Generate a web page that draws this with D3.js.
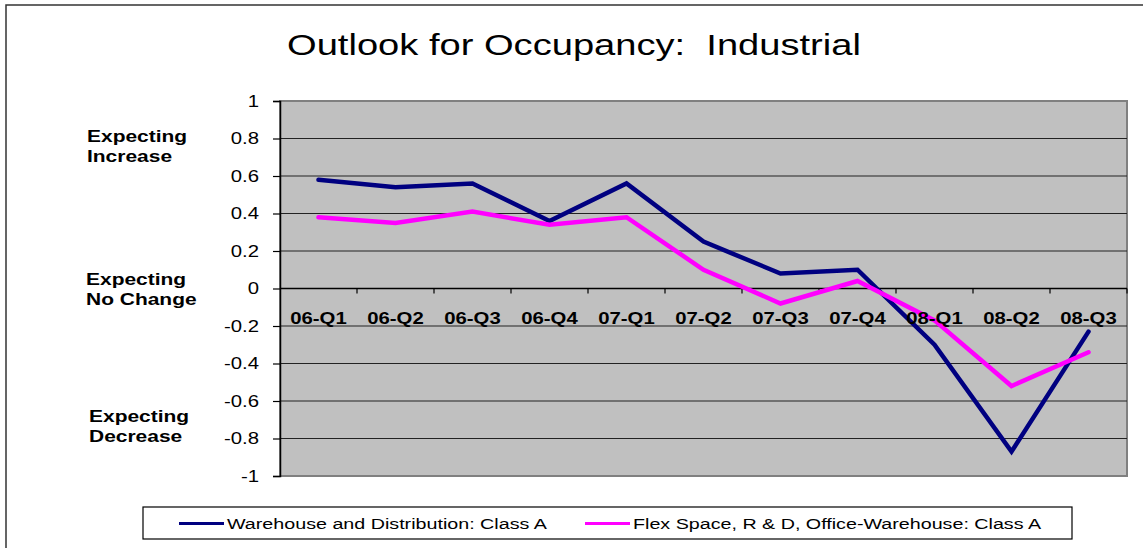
<!DOCTYPE html>
<html>
<head>
<meta charset="utf-8">
<script src="https://cdn.jsdelivr.net/npm/d3@7"></script>
<style>
  body { margin: 0; background: #fff; }
  text { font-family: Arial, "Liberation Sans", sans-serif; fill: #000; }
</style>
</head>
<body>
<div id="container"></div>
<script>
/* CONSTANTS AND GLOBALS */
const width = 1143,
  height = 548,
  margin = { top: 101, bottom: 72, left: 280, right: 16 };

// text in the reference is stretched sideways a bit
const stretch = 1.27;

/* DATA */
const quarters = ["06-Q1", "06-Q2", "06-Q3", "06-Q4", "07-Q1", "07-Q2", "07-Q3", "07-Q4", "08-Q1", "08-Q2", "08-Q3"];
const warehouse = [0.58, 0.54, 0.56, 0.36, 0.56, 0.25, 0.08, 0.10, -0.30, -0.87, -0.23];
const flexSpace = [0.38, 0.35, 0.41, 0.34, 0.38, 0.10, -0.08, 0.04, -0.17, -0.52, -0.34];
const seriesNames = ["Warehouse and Distribution: Class A", "Flex Space, R & D, Office-Warehouse: Class A"];
const yTicks = [1, 0.8, 0.6, 0.4, 0.2, 0, -0.2, -0.4, -0.6, -0.8, -1];

const series = [
  { name: seriesNames[0], values: warehouse, color: "#000080" },
  { name: seriesNames[1], values: flexSpace, color: "#FF00FF" }
];

function widen(sel) {
  sel.each(function () {
    const w = this.getComputedTextLength();
    d3.select(this).attr("textLength", w * stretch).attr("lengthAdjust", "spacingAndGlyphs");
  });
}

/* SCALES */
const xScale = d3.scaleBand()
  .domain(quarters)
  .range([margin.left, width - margin.right]);

const yScale = d3.scaleLinear()
  .domain([-1, 1])
  .range([height - margin.bottom, margin.top]);

/* HTML ELEMENTS */
const svg = d3.select("#container")
  .append("svg")
  .attr("width", width)
  .attr("height", height);

// chart area border
svg.append("rect")
  .attr("x", 6).attr("y", 5)
  .attr("width", 1145).attr("height", 560)
  .attr("fill", "#fff")
  .attr("stroke", "#333")
  .attr("stroke-width", 1.5);

// title
svg.append("text")
  .attr("x", 574).attr("y", 55)
  .attr("text-anchor", "middle")
  .style("font-size", "30px")
  .style("white-space", "pre")
  .text("Outlook for Occupancy:  Industrial")
  .call(widen);

// plot background
svg.append("rect")
  .attr("x", margin.left)
  .attr("y", margin.top)
  .attr("width", width - margin.right - margin.left)
  .attr("height", yScale(-1) - yScale(1))
  .attr("fill", "#C0C0C0")
  .attr("stroke", "#808080")
  .attr("stroke-width", 2);

// gridlines
svg.append("g")
  .selectAll("line")
  .data(yTicks.filter(d => d !== 1 && d !== -1 && d !== 0))
  .join("line")
  .attr("x1", margin.left).attr("x2", width - margin.right)
  .attr("y1", d => yScale(d)).attr("y2", d => yScale(d))
  .attr("stroke", "#222")
  .attr("stroke-width", 1.2);

// y axis (plain hyphen for negatives, like the original)
const yAxis = d3.axisLeft(yScale)
  .tickValues(yTicks)
  .tickSize(7)
  .tickPadding(14)
  .tickFormat(d => String(+d.toFixed(1)));
const yG = svg.append("g")
  .attr("transform", `translate(${margin.left}, 0)`)
  .call(yAxis);
yG.select(".domain").attr("stroke", "#000").attr("stroke-width", 1.5);
yG.selectAll(".tick line").attr("stroke", "#000").attr("stroke-width", 1.2);
yG.selectAll(".tick text")
  .style("font-size", "16px")
  .style("font-family", "Arial, 'Liberation Sans', sans-serif")
  .attr("fill", "#000")
  .call(widen);

// x axis at zero
const boundaries = quarters.map(q => xScale(q)).concat([width - margin.right]);
const xG = svg.append("g");
xG.append("line")
  .attr("x1", margin.left).attr("x2", width - margin.right)
  .attr("y1", yScale(0)).attr("y2", yScale(0))
  .attr("stroke", "#000")
  .attr("stroke-width", 1.5);
xG.selectAll(".xtick")
  .data(boundaries.slice(1))
  .join("line")
  .attr("class", "xtick")
  .attr("x1", d => d).attr("x2", d => d)
  .attr("y1", yScale(0)).attr("y2", yScale(0) + 5)
  .attr("stroke", "#000")
  .attr("stroke-width", 1.2);

// lines
const line = d3.line()
  .x((d, i) => xScale(quarters[i]) + xScale.bandwidth() / 2)
  .y(d => yScale(d));

svg.selectAll(".series")
  .data(series)
  .join("path")
  .attr("class", "series")
  .attr("d", d => line(d.values))
  .attr("fill", "none")
  .attr("stroke", d => d.color)
  .attr("stroke-width", 4.5)
  .attr("stroke-linejoin", "miter")
  .attr("stroke-linecap", "round");

// category labels sit on top of the lines
svg.selectAll(".xlabel")
  .data(quarters)
  .join("text")
  .attr("class", "xlabel")
  .attr("x", d => xScale(d) + xScale.bandwidth() / 2)
  .attr("y", yScale(0) + 35)
  .attr("text-anchor", "middle")
  .style("font-size", "16px")
  .style("font-weight", "bold")
  .text(d => d)
  .call(widen);

// side labels
const sideLabels = [
  { x: 87, y: 142, lines: ["Expecting", "Increase"] },
  { x: 86, y: 285, lines: ["Expecting", "No Change"] },
  { x: 89, y: 422, lines: ["Expecting", "Decrease"] }
];
sideLabels.forEach(s => {
  s.lines.forEach((t, i) => {
    svg.append("text")
      .attr("x", s.x)
      .attr("y", s.y + i * 20)
      .style("font-size", "16.5px")
      .style("font-weight", "bold")
      .text(t)
      .call(widen);
  });
});

// legend
const legend = svg.append("g");
legend.append("rect")
  .attr("x", 143).attr("y", 507)
  .attr("width", 929).attr("height", 32)
  .attr("fill", "#fff")
  .attr("stroke", "#000")
  .attr("stroke-width", 1.2);
const legendX = [179, 585];
series.forEach((s, i) => {
  legend.append("line")
    .attr("x1", legendX[i]).attr("x2", legendX[i] + 45)
    .attr("y1", 523.5).attr("y2", 523.5)
    .attr("stroke", s.color)
    .attr("stroke-width", 3);
  legend.append("text")
    .attr("x", legendX[i] + 48)
    .attr("y", 529)
    .style("font-size", "15.5px")
    .text(s.name)
    .call(widen);
});
</script>
</body>
</html>
